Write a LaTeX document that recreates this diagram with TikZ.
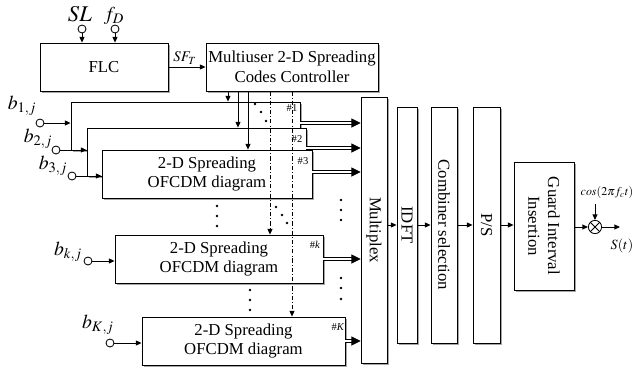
\documentclass[tikz,border=0pt]{standalone}
\usepackage{mathptmx}
\usepackage{fontspec}
\setmainfont{Liberation Serif}
\usetikzlibrary{arrows.meta,shadows}

\begin{document}
\begin{tikzpicture}[x=0.025cm, y=-0.025cm, line width=0.6pt,
	>={Triangle[length=4pt,width=3.5pt]},
	box/.style={draw, fill=white, inner sep=1pt, align=center,
		font=\fontsize{11.9}{14}\selectfont,
		drop shadow={shadow xshift=1.4pt, shadow yshift=-1.4pt, fill=gray!70, opacity=1}},
	vtext/.style={rotate=-90, align=center, font=\fontsize{11.9}{14}\selectfont},
	port/.style={draw, circle, fill=white, minimum size=0.2cm, inner sep=0pt},
	blabel/.style={font=\fontsize{14}{16}\selectfont, inner sep=0pt},
	tag/.style={font=\fontsize{7.5}{8}\selectfont, inner sep=0pt},
	dbl/.style={double, double distance=1.4pt, line width=0.5pt, -{Triangle[length=6.5pt,width=6.5pt]}},
	dashdot/.style={dash pattern=on 3pt off 1.5pt on 0.6pt off 1.5pt},
	mixer/.style={draw, circle, fill=white, minimum size=0.33cm, inner sep=0pt,
		path picture={\draw (path picture bounding box.north west) -- (path picture bounding box.south east)
			(path picture bounding box.north east) -- (path picture bounding box.south west);}}]
	\useasboundingbox (0,0) rectangle (641,369);
	
	% control part
	\node[box, minimum width=3.2cm, minimum height=1.2cm] (flc) at (104,67) {FLC};
	\node[box, minimum width=4.3cm, minimum height=1.2cm] (ctrl) at (292,67) {Multiuser 2-D Spreading\\Codes Controller};
	\node[port] (sl) at (82,29) {};
	\node[port] (fd) at (115,29) {};
	\node[font=\fontsize{16}{18}\selectfont, inner sep=0pt] (lsl) at (80,14) {$SL$};
	\node[blabel] (lfd) at (114,16) {$f_D$};
	\node[font=\fontsize{10.5}{12}\selectfont] (lsf) at (185,58) {$SF_T$};
	\draw[->] (sl) -- (sl |- flc.north);
	\draw[->] (fd) -- (fd |- flc.north);
	\draw[->] (flc) -- (ctrl);
	
	% spreading blocks
	\node[box, minimum width=5.725cm, minimum height=1.2cm] (blk1) at (185.5,126) {};
	\node[box, minimum width=5.475cm, minimum height=1.2cm] (blk2) at (196.5,152) {};
	\node[box, minimum width=5.25cm, minimum height=1.2cm] (blk3) at (207,174) {2-D Spreading\\OFCDM diagram};
	\node[box, minimum width=5.2cm, minimum height=1.2cm] (blkk) at (219,259) {2-D Spreading\\OFCDM diagram};
	\node[box, minimum width=5.075cm, minimum height=1.2cm] (blkK) at (243.5,341) {2-D Spreading\\OFCDM diagram};
	\node[tag] (t1) at (292,108) {\#1};
	\node[tag] (t2) at (297,139) {\#2};
	\node[tag] (t3) at (303,161) {\#3};
	\node[tag] (tk) at (315,245) {\#\textit{k}};
	\node[tag] (tK) at (338,327) {\#\textit{K}};
	
	% inputs
	\node[port] (b1) at (40,123) {};
	\node[port] (b2) at (56,150) {};
	\node[port] (b3) at (72,176) {};
	\node[port] (bk) at (88,261) {};
	\node[port] (bK) at (110,343) {};
	\node[blabel] (lb1) at (22,106) {$b_{1,j}$};
	\node[blabel] (lb2) at (38,139) {$b_{2,j}$};
	\node[blabel] (lb3) at (53,166) {$b_{3,j}$};
	\node[blabel] (lbk) at (68,252) {$b_{k,j}$};
	\node[blabel] (lbK) at (98,325) {$b_{K,j}$};
	\draw[->] (b1) -- (b1 -| blk1.west);
	\draw[->] (b2) -- (b2 -| blk2.west);
	\draw[->] (b3) -- (b3 -| blk3.west);
	\draw[->] (bk) -- (bk -| blkk.west);
	\draw[->] (bK) -- (bK -| blkK.west);
	
	% code lines from controller
	\draw[->] ([xshift=-1.6cm]ctrl.south) -- ([xshift=-1.6cm]ctrl.south |- blk1.north);
	\draw[->] ([xshift=-1.35cm]ctrl.south) -- ([xshift=-1.35cm]ctrl.south |- blk2.north);
	\draw[->] ([xshift=-1.1cm]ctrl.south) -- ([xshift=-1.1cm]ctrl.south |- blk3.north);
	\draw[dashdot, ->] ([xshift=-0.55cm]ctrl.south) -- ([xshift=-0.55cm]ctrl.south |- blkk.north);
	\draw[dashdot, ->] (ctrl.south) -- (ctrl.south |- blkK.north);
	
	% back end
	\node[box, minimum width=0.65cm, minimum height=6.65cm, label={[vtext]center:Multiplex}] (mux) at (374,230) {};
	\node[box, minimum width=0.5cm, minimum height=5.9cm, label={[vtext]center:IDFT}] (idft) at (407,225) {};
	\node[box, minimum width=0.65cm, minimum height=5.9cm, label={[vtext]center:Combiner selection}] (comb) at (444,225) {};
	\node[box, minimum width=0.675cm, minimum height=5.9cm, label={[vtext]center:P/S}] (ps) at (486.5,225) {};
	\node[box, minimum width=1.5cm, minimum height=3.2cm, label={[vtext]center:Guard Interval\\Insertion}] (gi) at (544,226) {};
	\node[mixer] (mix) at (595,227) {};
	\node[font=\fontsize{8.5}{10}\selectfont] (osc) at (607,193) {$cos(2\pi f_c t)$};
	\node[font=\fontsize{10}{12}\selectfont] (st) at (622,246) {$S(t)$};
	\coordinate (out) at (620,227);
	
	% outputs into multiplexer
	\draw[dbl] ([yshift=0.075cm]blk1.east) -- ([yshift=0.075cm]blk1.east -| mux.west);
	\draw[dbl] ([yshift=0.1cm]blk2.east) -- ([yshift=0.1cm]blk2.east -| mux.west);
	\draw[dbl] ([yshift=0.05cm]blk3.east) -- ([yshift=0.05cm]blk3.east -| mux.west);
	\draw[dbl] (blkk.east) -- (blkk.east -| mux.west);
	\draw[dbl] (blkK.east) -- (blkK.east -| mux.west);
	
	\draw[->] (idft.west -| mux.east) -- (idft.west);
	\draw[->] (idft) -- (comb);
	\draw[->] (comb) -- (ps);
	\draw[->] (ps.east) -- (ps.east -| gi.west);
	\draw[->] (gi.east |- mix) -- (mix);
	\draw[->] (mix) -- (out);
	\draw[->] (osc.south -| mix) -- (mix);
	
	% dots
	\foreach \x/\y in {255/104, 261/112, 266/121, 276/207, 282/215, 287/223}{
		\fill (\x,\y) circle (1pt);
	}
	\foreach \y in {206, 216, 226}{
		\fill (217,\y) circle (1pt);
	}
	\foreach \y in {290, 300, 310}{
		\fill (250,\y) circle (1pt);
	}
	\foreach \y in {200, 210, 220, 278, 288, 299}{
		\fill (341,\y) circle (1pt);
	}
\end{tikzpicture}
\end{document}
